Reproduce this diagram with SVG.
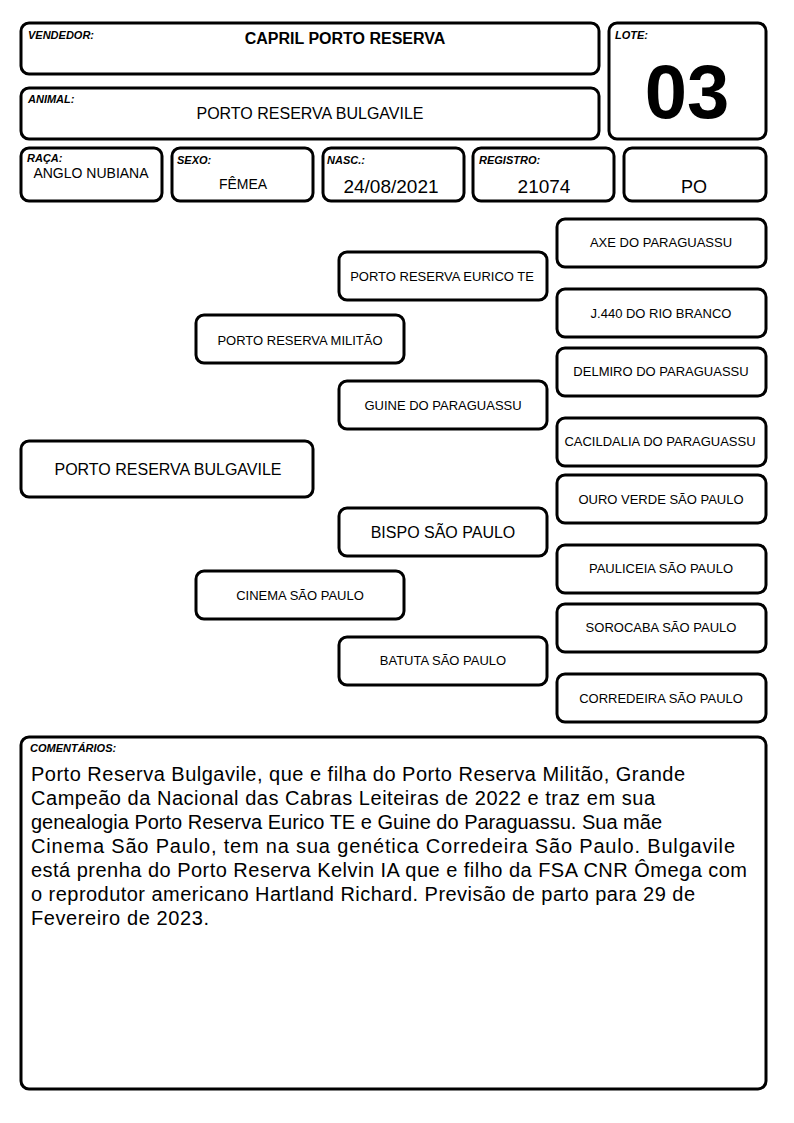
<svg xmlns="http://www.w3.org/2000/svg" width="794" height="1123" viewBox="0 0 794 1123">
<style>
.b{fill:#fff;stroke:#000;stroke-width:3}
.l{font-family:"Liberation Sans",Arial,sans-serif;font-size:11px;font-weight:bold;font-style:italic;fill:#000}
.t{font-family:"Liberation Sans",Arial,sans-serif;font-size:13px;fill:#000;text-anchor:middle}
.m{font-family:"Liberation Sans",Arial,sans-serif;font-size:16px;fill:#000;text-anchor:middle}
.d{font-family:"Liberation Sans",Arial,sans-serif;font-size:19px;fill:#000;text-anchor:middle}
.c{font-family:"Liberation Sans",Arial,sans-serif;font-size:20px;fill:#000}
</style>
<rect width="794" height="1123" fill="#fff"/>
<g id="vendedor"><rect class="b" x="21" y="23" width="578" height="51" rx="8"/><text class="l" x="28" y="39">VENDEDOR:</text><text class="m" x="345" y="44" style="font-weight:bold">CAPRIL PORTO RESERVA</text></g>
<g id="animal"><rect class="b" x="21" y="88" width="578" height="51" rx="8"/><text class="l" x="28" y="103">ANIMAL:</text><text class="m" x="310" y="119">PORTO RESERVA BULGAVILE</text></g>
<g id="lote"><rect class="b" x="609" y="23" width="157" height="116" rx="8"/><text class="l" x="615" y="39">LOTE:</text><text class="m" x="687" y="118" style="font-weight:bold;font-size:76px">03</text></g>
<g id="raca"><rect class="b" x="21" y="148" width="141" height="53" rx="8"/><text class="l" x="27" y="162">RAÇA:</text><text class="m" x="91" y="178" style="font-size:14px">ANGLO NUBIANA</text></g>
<g id="sexo"><rect class="b" x="172" y="148" width="141" height="53" rx="8"/><text class="l" x="177" y="164">SEXO:</text><text class="m" x="243" y="189" style="font-size:14px">FÊMEA</text></g>
<g id="nasc"><rect class="b" x="323" y="148" width="141" height="53" rx="8"/><text class="l" x="327" y="164">NASC.:</text><text class="d" x="391" y="193">24/08/2021</text></g>
<g id="registro"><rect class="b" x="473" y="148" width="141" height="53" rx="8"/><text class="l" x="479" y="164">REGISTRO:</text><text class="d" x="544" y="193">21074</text></g>
<g id="po"><rect class="b" x="624" y="148" width="142" height="53" rx="8"/><text class="d" x="694" y="193" style="font-size:18px">PO</text></g>

<g id="connectors"></g>

<g id="n-bulgavile"><rect class="b" x="21" y="441" width="292" height="56" rx="8"/><text class="m" x="168" y="475">PORTO RESERVA BULGAVILE</text></g>
<g id="n-militao"><rect class="b" x="196" y="315" width="208" height="48" rx="8"/><text class="t" x="300" y="345">PORTO RESERVA MILITÃO</text></g>
<g id="n-cinema"><rect class="b" x="196" y="571" width="208" height="48" rx="8"/><text class="t" x="300" y="600">CINEMA SÃO PAULO</text></g>
<g id="n-eurico"><rect class="b" x="339" y="252" width="208" height="48" rx="8"/><text class="t" x="442" y="281">PORTO RESERVA EURICO TE</text></g>
<g id="n-guine"><rect class="b" x="339" y="381" width="208" height="48" rx="8"/><text class="t" x="443" y="410">GUINE DO PARAGUASSU</text></g>
<g id="n-bispo"><rect class="b" x="339" y="508" width="208" height="48" rx="8"/><text class="m" x="443" y="538">BISPO SÃO PAULO</text></g>
<g id="n-batuta"><rect class="b" x="339" y="637" width="208" height="48" rx="8"/><text class="t" x="443" y="665">BATUTA SÃO PAULO</text></g>
<g id="n-axe"><rect class="b" x="557" y="219" width="209" height="48" rx="8"/><text class="t" x="661" y="247">AXE DO PARAGUASSU</text></g>
<g id="n-j440"><rect class="b" x="557" y="289" width="209" height="48" rx="8"/><text class="t" x="661" y="318">J.440 DO RIO BRANCO</text></g>
<g id="n-delmiro"><rect class="b" x="557" y="348" width="209" height="48" rx="8"/><text class="t" x="661" y="376">DELMIRO DO PARAGUASSU</text></g>
<g id="n-cacildalia"><rect class="b" x="557" y="418" width="209" height="48" rx="8"/><text class="t" x="660" y="446">CACILDALIA DO PARAGUASSU</text></g>
<g id="n-ouro"><rect class="b" x="557" y="475" width="209" height="48" rx="8"/><text class="t" x="661" y="504">OURO VERDE SÃO PAULO</text></g>
<g id="n-pauliceia"><rect class="b" x="557" y="545" width="209" height="48" rx="8"/><text class="t" x="661" y="573">PAULICEIA SÃO PAULO</text></g>
<g id="n-sorocaba"><rect class="b" x="557" y="604" width="209" height="48" rx="8"/><text class="t" x="661" y="632">SOROCABA SÃO PAULO</text></g>
<g id="n-corredeira"><rect class="b" x="557" y="674" width="209" height="48" rx="8"/><text class="t" x="661" y="703">CORREDEIRA SÃO PAULO</text></g>

<g id="comentarios"><rect class="b" x="21" y="737" width="745" height="352" rx="8"/><text class="l" x="30" y="752">COMENTÁRIOS:</text>
<text class="c" x="31" y="781" textLength="654" lengthAdjust="spacing">Porto Reserva Bulgavile, que e filha do Porto Reserva Militão, Grande</text>
<text class="c" x="31" y="805" textLength="624" lengthAdjust="spacing">Campeão da Nacional das Cabras Leiteiras de 2022 e traz em sua</text>
<text class="c" x="31" y="829" textLength="631" lengthAdjust="spacing">genealogia Porto Reserva Eurico TE e Guine do Paraguassu. Sua mãe</text>
<text class="c" x="31" y="853" textLength="704" lengthAdjust="spacing">Cinema São Paulo, tem na sua genética Corredeira São Paulo. Bulgavile</text>
<text class="c" x="31" y="877" textLength="716" lengthAdjust="spacing">está prenha do Porto Reserva Kelvin IA que e filho da FSA CNR Ômega com</text>
<text class="c" x="31" y="901" textLength="664" lengthAdjust="spacing">o reprodutor americano Hartland Richard. Previsão de parto para 29 de</text>
<text class="c" x="31" y="925" textLength="178" lengthAdjust="spacing">Fevereiro de 2023.</text>
</g>
</svg>
